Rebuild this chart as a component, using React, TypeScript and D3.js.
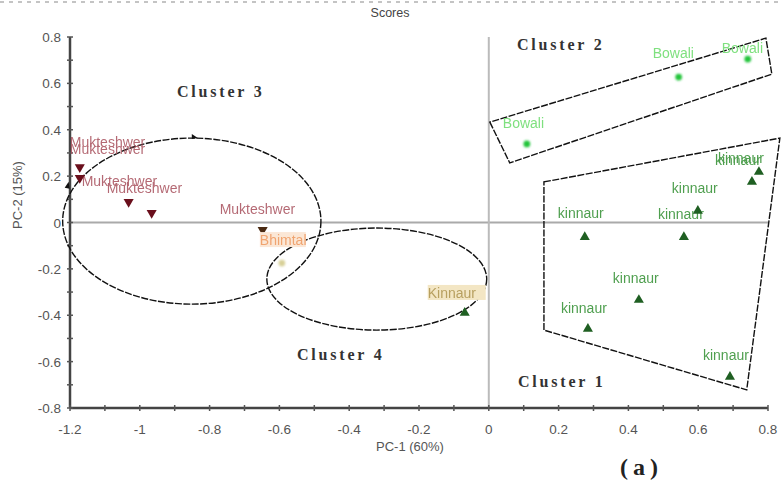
import React from "react";
import * as d3 from "d3";

// PCA scores
const mukteshwerX = [-1.172, -1.172, -1.032, -0.966, -0.648];
const mukteshwerY = [0.239, 0.192, 0.089, 0.041, -0.032];
const bowaliX = [0.109, 0.544, 0.742];
const bowaliY = [0.339, 0.627, 0.705];
const kinnaurX = [0.774, 0.754, 0.599, 0.275, 0.559, 0.43, 0.284, 0.691];
const kinnaurY = [0.218, 0.175, 0.05, -0.063, -0.063, -0.334, -0.459, -0.666];
const kinnaurOutX = [-0.069];
const kinnaurOutY = [-0.39];
const paleX = [-0.593];
const paleY = [-0.175];

const xTicks = [-1.2, -1, -0.8, -0.6, -0.4, -0.2, 0, 0.2, 0.4, 0.6, 0.8];
const yTicks = [-0.8, -0.6, -0.4, -0.2, 0, 0.2, 0.4, 0.6, 0.8];

// label offsets (px) from each point: left edge and baseline
const mukLabelDx = [-10, -10, -47, -45, -43];
const mukLabelDy = [-20, -24, -16, -20, -16];
const bowLabelDx = [-24, -26, -26];
const bowLabelDy = [-16, -19, -6];
const kinLabelDx = [-44, -34, -26, -27, -26, -26, -27, -27];
const kinLabelDy = [-7, -19, -18, -19, -18, -17, -16, -17];

// cluster outlines in data units
const cluster2X = [0.003, 0.06, 0.811, 0.794];
const cluster2Y = [0.433, 0.257, 0.64, 0.795];
const cluster1X = [0.158, 0.834, 0.739, 0.158];
const cluster1Y = [0.175, 0.364, -0.722, -0.464];
const ellipse3 = { cx: -0.851, cy: 0.006, rx: 0.37, ry: 0.358 };
const ellipse4 = { cx: -0.321, cy: -0.244, rx: 0.315, ry: 0.22 };

const W = 781;
const H = 483;

export default function App() {
  const x = d3.scaleLinear().domain([-1.2, 0.8]).range([70, 768]);
  const y = d3.scaleLinear().domain([-0.8, 0.8]).range([408, 37]);

  const tri = d3.symbol(d3.symbolTriangle, 44)()!;
  const dot = d3.symbol(d3.symbolCircle, 36)()!;

  const minorX = d3.range(-1.2, 0.801, 0.1);
  const minorY = d3.range(-0.8, 0.801, 0.1);

  const poly = (xs: number[], ys: number[]) =>
    xs.map((v, i) => `${x(v)},${y(ys[i])}`).join(" ");

  const dash = "7 1.5";
  const tickFont = { fontFamily: "Arial, 'Liberation Sans', sans-serif", fontSize: 13.5, fill: "#555" };
  const clusterFont = {
    fontFamily: "'Liberation Serif', 'DejaVu Serif', serif",
    fontSize: 16,
    fontWeight: 700,
    letterSpacing: 2.8,
    fill: "#333",
  };
  const labelFont = { fontFamily: "Arial, 'Liberation Sans', sans-serif", fontSize: 14 };

  return (
    <svg width={W} height={H} style={{ position: "absolute", left: 0, top: 0, background: "#fff" }}>
      <defs>
        <filter id="soft" x="-20%" y="-50%" width="140%" height="200%">
          <feGaussianBlur stdDeviation="0.6" />
        </filter>
        <filter id="glow" x="-50%" y="-50%" width="200%" height="200%">
          <feGaussianBlur stdDeviation="1" />
        </filter>
      </defs>
      {/* top dashed border */}
      <line x1={0} x2={W} y1={2} y2={2} stroke="#c4c4c4" strokeWidth={2} strokeDasharray="4 5" />

      <text x={390} y={17} textAnchor="middle" style={{ ...tickFont, fontSize: 12.5, fill: "#444" }}>
        Scores
      </text>

      {/* zero lines */}
      <line x1={x(-1.2)} x2={x(0.8)} y1={y(0)} y2={y(0)} stroke="#aaa" strokeWidth={2} />
      <line x1={x(0)} x2={x(0)} y1={y(0.8)} y2={y(-0.8)} stroke="#bbb" strokeWidth={2} />

      {/* axes */}
      <line x1={x(-1.2)} x2={x(-1.2)} y1={y(0.8)} y2={y(-0.8)} stroke="#444" strokeWidth={2.5} />
      <line x1={x(-1.2)} x2={x(0.8)} y1={y(-0.8)} y2={y(-0.8)} stroke="#444" strokeWidth={2.5} />
      {minorX.map((v, i) => (
        <line key={"mx" + i} x1={x(v)} x2={x(v)} y1={y(-0.8) - 3} y2={y(-0.8) + 3} stroke="#555" strokeWidth={1.5} />
      ))}
      {minorY.map((v, i) => (
        <line key={"my" + i} x1={x(-1.2) - 3} x2={x(-1.2) + 3} y1={y(v)} y2={y(v)} stroke="#555" strokeWidth={1.5} />
      ))}
      {xTicks.map((v) => (
        <text key={"xt" + v} x={x(v)} y={434} textAnchor="middle" style={tickFont}>
          {String(v)}
        </text>
      ))}
      {yTicks.map((v) => (
        <text key={"yt" + v} x={61} y={y(v) + 5} textAnchor="end" style={tickFont}>
          {String(v)}
        </text>
      ))}
      <text x={410} y={451} textAnchor="middle" style={{ ...tickFont, fontSize: 13 }}>
        PC-1 (60%)
      </text>
      <text transform={`translate(22,${195}) rotate(-90)`} textAnchor="middle" style={{ ...tickFont, fontSize: 13 }}>
        PC-2 (15%)
      </text>

      {/* cluster outlines */}
      <g fill="none" stroke="#111" strokeWidth={1.4} strokeDasharray={dash}>
        <polygon points={poly(cluster2X, cluster2Y)} />
        <polygon points={poly(cluster1X, cluster1Y)} />
        <ellipse
          cx={x(ellipse3.cx)}
          cy={y(ellipse3.cy)}
          rx={x(ellipse3.rx) - x(0)}
          ry={y(0) - y(ellipse3.ry)}
        />
        <ellipse
          cx={x(ellipse4.cx)}
          cy={y(ellipse4.cy)}
          rx={x(ellipse4.rx) - x(0)}
          ry={y(0) - y(ellipse4.ry)}
        />
      </g>
      {/* little arrow marks on the cluster 3 ellipse */}
      <path
        d={`M${x(ellipse3.cx)},${y(ellipse3.cy + ellipse3.ry) - 4} l6,4 l-6,1 z`}
        fill="#111"
      />
      <path d={`M${x(ellipse3.cx - ellipse3.rx) + 2},${y(0.15)} l4,-6 l1,7 z`} fill="#111" />

      {/* Mukteshwer */}
      <g style={labelFont} fill="#a8505c" opacity={0.85} filter="url(#soft)">
        {mukteshwerX.map((v, i) => (
          <text key={"ml" + i} x={x(v) + mukLabelDx[i]} y={y(mukteshwerY[i]) + mukLabelDy[i]}>
            Mukteshwer
          </text>
        ))}
      </g>
      {mukteshwerX.map((v, i) => (
        <path
          key={"m" + i}
          d={tri}
          transform={`translate(${x(v)},${y(mukteshwerY[i])}) rotate(180)`}
          fill={i === 4 ? "#4a2a12" : "#6a0f1c"}
        />
      ))}

      {/* pale point near cluster 3/4 overlap */}
      <rect x={x(paleX[0]) - 22} y={y(paleY[0]) - 31} width={46} height={15} fill="#fbe7d6" />
      <text
        x={x(paleX[0]) - 22}
        y={y(paleY[0]) - 18}
        style={labelFont}
        fill="#f0a470"
        filter="url(#soft)"
      >
        Bhimtal
      </text>
      {paleX.map((v, i) => (
        <path
          key={"p" + i}
          d={dot}
          transform={`translate(${x(v)},${y(paleY[i])})`}
          fill="#d8d098"
          filter="url(#glow)"
        />
      ))}

      {/* Bowali */}
      <g style={labelFont} fill="#7fe07f" filter="url(#soft)">
        {bowaliX.map((v, i) => (
          <text key={"bl" + i} x={x(v) + bowLabelDx[i]} y={y(bowaliY[i]) + bowLabelDy[i]}>
            Bowali
          </text>
        ))}
      </g>
      {bowaliX.map((v, i) => (
        <path
          key={"b" + i}
          d={dot}
          transform={`translate(${x(v)},${y(bowaliY[i])})`}
          fill="#22c43a"
          filter="url(#glow)"
        />
      ))}

      {/* kinnaur */}
      <g style={labelFont} fill="#4f9f4f" filter="url(#soft)">
        {kinnaurX.map((v, i) => (
          <text key={"kl" + i} x={x(v) + kinLabelDx[i]} y={y(kinnaurY[i]) + kinLabelDy[i]}>
            kinnaur
          </text>
        ))}
      </g>
      {kinnaurOutX.map((v, i) => (
        <g key={"ko" + i}>
          <rect x={x(v) - 37} y={y(kinnaurOutY[i]) - 28} width={58} height={15} fill="#f3e6c4" />
          <text
            x={x(v) - 37}
            y={y(kinnaurOutY[i]) - 15}
            style={labelFont}
            fill="#b8a060"
            filter="url(#soft)"
          >
            Kinnaur
          </text>
        </g>
      ))}
      {kinnaurX.concat(kinnaurOutX).map((v, i) => (
        <path
          key={"k" + i}
          d={tri}
          transform={`translate(${x(v)},${y(kinnaurY.concat(kinnaurOutY)[i])})`}
          fill="#1f5f22"
        />
      ))}

      {/* cluster labels */}
      <text x={177} y={97} style={clusterFont}>
        Cluster 3
      </text>
      <text x={517} y={50} style={clusterFont}>
        Cluster 2
      </text>
      <text x={297} y={360} style={clusterFont}>
        Cluster 4
      </text>
      <text x={518} y={387} style={clusterFont}>
        Cluster 1
      </text>
      <text
        x={620}
        y={475}
        style={{ ...clusterFont, fontSize: 24, letterSpacing: 5, fill: "#222" }}
      >
        (a)
      </text>
    </svg>
  );
}
